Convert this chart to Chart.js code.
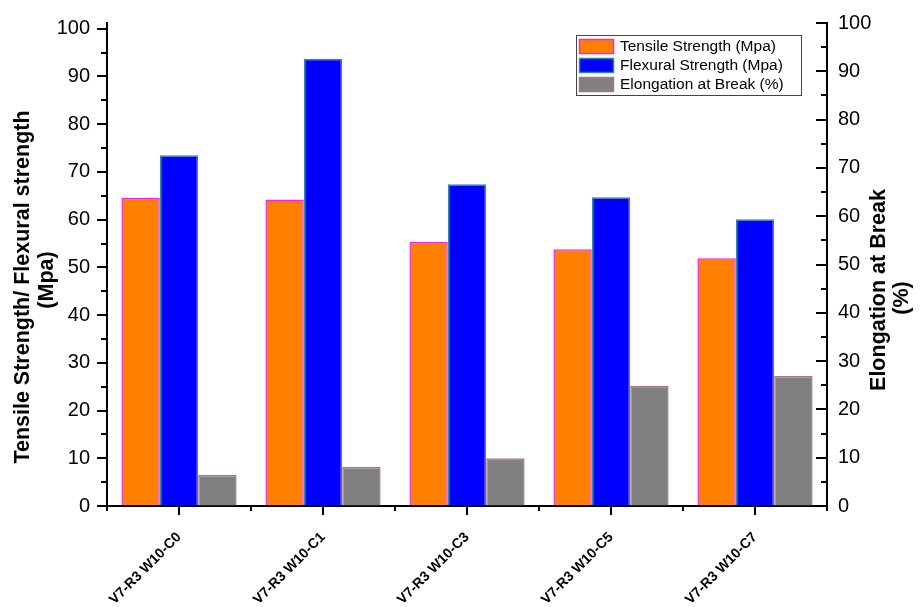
<!DOCTYPE html>
<html>
<head>
<meta charset="utf-8">
<script src="https://cdn.jsdelivr.net/npm/chart.js@4.4.0/dist/chart.umd.min.js"></script>
<style>
  html, body { margin: 0; padding: 0; background: #fff; }
  #wrap { width: 921px; height: 607px; }
</style>
</head>
<body>
<div id="wrap"><canvas id="chart" width="921" height="607"></canvas></div>
<script>
// 데이터
const categories = ['V7-R3 W10-C0', 'V7-R3 W10-C1', 'V7-R3 W10-C3', 'V7-R3 W10-C5', 'V7-R3 W10-C7'];
const tensileStrength = [64.6, 64.2, 55.3, 53.8, 51.9];
const flexuralStrength = [73.5, 93.7, 67.4, 64.7, 60.1];
const elongationAtBreak = [6.4, 8.1, 9.9, 24.9, 26.9];
const leftTitle = ['Tensile Strength/ Flexural strength', '(Mpa)'];
const rightTitle = ['Elongation at Break', '(%)'];

const FONT = "'Liberation Sans', Arial, sans-serif";

// 보조 눈금, 오른쪽 축 안쪽 눈금, 축 제목, 범례를 직접 그리는 플러그인
const extrasPlugin = {
    id: 'extras',
    afterDraw(chart) {
        const ctx = chart.ctx;
        const area = chart.chartArea;
        const y = chart.scales.y;
        const y1 = chart.scales.y1;

        ctx.save();
        ctx.strokeStyle = '#000';
        ctx.lineWidth = 2;
        ctx.beginPath();
        // 왼쪽 보조 눈금
        for (let v = 5; v < 100; v += 10) {
            const py = Math.round(y.getPixelForValue(v));
            ctx.moveTo(area.left - 6, py);
            ctx.lineTo(area.left, py);
        }
        // 오른쪽 눈금 (안쪽 방향)
        for (let v = 0; v <= 100; v += 5) {
            const py = Math.round(y1.getPixelForValue(v));
            const len = v % 10 === 0 ? 11 : 6;
            ctx.moveTo(area.right - len, py);
            ctx.lineTo(area.right, py);
        }
        // x축 카테고리 사이 보조 눈금
        const n = categories.length;
        for (let i = 0; i <= n; i++) {
            const px = Math.round(area.left + (area.right - area.left) * i / n);
            ctx.moveTo(px, area.bottom);
            ctx.lineTo(px, area.bottom + 5);
        }
        ctx.stroke();

        // 축 제목
        ctx.fillStyle = '#000';
        ctx.font = 'bold 21.5px ' + FONT;
        ctx.textAlign = 'center';
        ctx.textBaseline = 'middle';
        const drawRotated = (text, x, cy) => {
            ctx.save();
            ctx.translate(x, cy);
            ctx.rotate(-Math.PI / 2);
            ctx.fillText(text, 0, 0);
            ctx.restore();
        };
        drawRotated(leftTitle[0], 23, 287);
        drawRotated(leftTitle[1], 47, 280);
        drawRotated(rightTitle[0], 879, 290);
        drawRotated(rightTitle[1], 902, 298);

        // 범례
        const lx = 576, ly = 35, lw = 225, lh = 60;
        ctx.fillStyle = '#fff';
        ctx.fillRect(lx, ly, lw, lh);
        ctx.strokeStyle = '#444';
        ctx.lineWidth = 1;
        ctx.strokeRect(lx + 0.5, ly + 0.5, lw, lh);
        ctx.font = '15.5px ' + FONT;
        ctx.textAlign = 'left';
        chart.data.datasets.forEach((ds, i) => {
            const ry = ly + 4 + i * 19;
            ctx.fillStyle = ds.backgroundColor;
            ctx.fillRect(lx + 3, ry, 35, 15);
            ctx.strokeStyle = ds.borderColor;
            ctx.lineWidth = 1.5;
            ctx.strokeRect(lx + 3.5, ry + 0.5, 34, 14);
            ctx.fillStyle = '#000';
            ctx.fillText(ds.label, lx + 44, ry + 8);
        });
        ctx.restore();
    }
};

new Chart(document.getElementById('chart'), {
    type: 'bar',
    data: {
        labels: categories,
        datasets: [
            {
                label: 'Tensile Strength (Mpa)',
                data: tensileStrength,
                backgroundColor: '#FF8000',
                borderColor: '#FF20E0',
                borderWidth: 1.5,
                yAxisID: 'y'
            },
            {
                label: 'Flexural Strength (Mpa)',
                data: flexuralStrength,
                backgroundColor: '#0000FF',
                borderColor: '#2A8AA0',
                borderWidth: 1.5,
                yAxisID: 'y'
            },
            {
                label: 'Elongation at Break (%)',
                data: elongationAtBreak,
                backgroundColor: '#808080',
                borderColor: '#A87878',
                borderWidth: 1.5,
                yAxisID: 'y1'
            }
        ]
    },
    options: {
        responsive: false,
        animation: false,
        layout: { padding: { top: 19, left: 0, right: 0, bottom: 0 } },
        datasets: { bar: { categoryPercentage: 0.8, barPercentage: 1.0 } },
        plugins: {
            legend: { display: false },
            tooltip: { enabled: false }
        },
        scales: {
            x: {
                offset: true,
                grid: { display: true, drawOnChartArea: false, offset: false, color: '#000', lineWidth: 2, tickLength: 9 },
                border: { color: '#000', width: 2 },
                ticks: {
                    color: '#000',
                    font: { family: FONT, size: 14, weight: 'bold' },
                    minRotation: 45,
                    maxRotation: 45,
                    padding: 14
                },
                afterFit(scale) { scale.height = 101; }
            },
            y: {
                position: 'left',
                min: 0,
                max: 101.2,
                grid: { display: true, drawOnChartArea: false, color: '#000', lineWidth: 2, tickLength: 10 },
                border: { color: '#000', width: 2 },
                ticks: {
                    stepSize: 10,
                    includeBounds: false,
                    color: '#000',
                    font: { family: FONT, size: 20 },
                    padding: 7
                },
                afterFit(scale) { scale.width = 107; }
            },
            y1: {
                position: 'right',
                min: 0,
                max: 100,
                grid: { display: true, drawOnChartArea: false, drawTicks: false },
                border: { color: '#000', width: 2 },
                ticks: {
                    stepSize: 10,
                    color: '#000',
                    font: { family: FONT, size: 20 },
                    padding: 11
                },
                afterFit(scale) { scale.width = 94; }
            }
        }
    },
    plugins: [extrasPlugin]
});
</script>
</body>
</html>
